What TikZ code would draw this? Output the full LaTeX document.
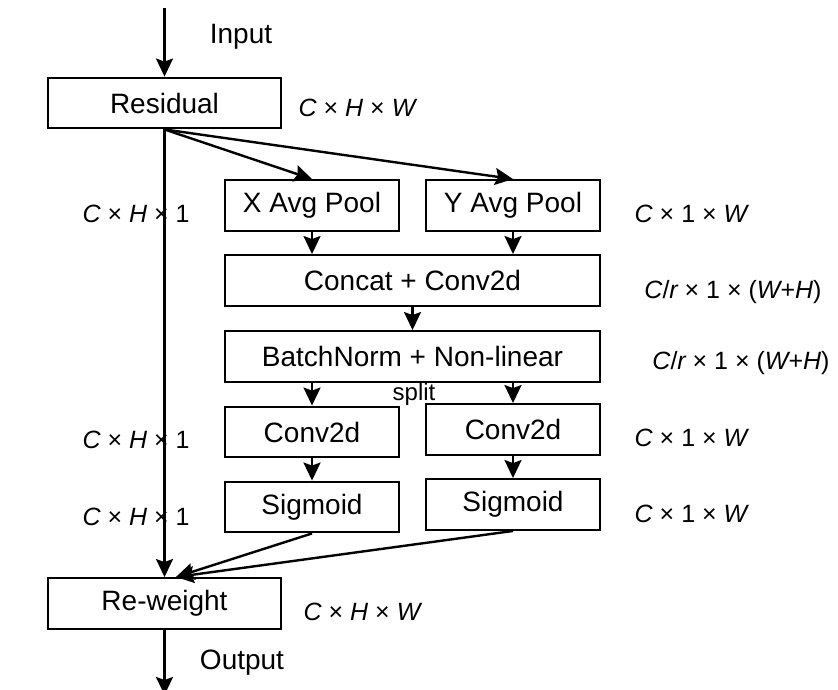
\documentclass[tikz,border=0pt]{standalone}
\usepackage{fontspec}
\setmainfont{Liberation Sans}
\usetikzlibrary{arrows.meta,positioning}
\tikzset{blk/.style={draw,line width=2.4pt,inner sep=0pt,minimum height=50.5pt,font=\fontsize{28}{32}\selectfont},
 wide/.style={blk,minimum width=233pt},mid/.style={blk,minimum width=174pt},long/.style={blk,minimum width=375pt},
 dim/.style={font=\fontsize{25}{29}\selectfont\itshape},
 txt/.style={font=\fontsize{28}{32}\selectfont},
 arr/.style={-{Stealth[length=18pt,width=17pt,inset=3pt]},line width=2.4pt}}

\begin{document}
\begin{tikzpicture}[x=1pt,y=-1pt]
\useasboundingbox (0,0) rectangle (838,689);
\node[wide] (res) at (164.5,103) {Residual};
\node[mid] (xpool) at (312,205.5) {X Avg Pool};
\node[mid] (ypool) at (513,205.5) {Y Avg Pool};
\node[long] (cat) at (412.5,280.5) {Concat + Conv2d};
\node[long] (bn) at (412.5,356.5) {BatchNorm + Non-linear};
\node[mid] (convl) at (312,432) {Conv2d};
\node[mid] (convr) at (513,429.5) {Conv2d};
\node[mid] (sigl) at (312,507) {Sigmoid};
\node[mid] (sigr) at (513,504.5) {Sigmoid};
\node[wide] (rew) at (164.5,603.5) {Re-weight};
\coordinate (in) at (164.5,8);
\coordinate (out) at (164.5,695);
\coordinate (rt) at (176,577);
% text
\node[txt] (intxt) at (241,37) {Input};
\node[txt] (outtxt) at (242,663) {Output};
\node[font=\fontsize{24}{28}\selectfont] (split) at (414,394) {split};
\node[dim] (d1) at (357,108) {C {\upshape×} H {\upshape×} W};
\node[dim] (d2) at (136,214) {C {\upshape×} H {\upshape× 1}};
\node[dim] (d3) at (691,214) {C {\upshape× 1 ×} W};
\node[dim] (d4) at (733,292) {C{\upshape/}r {\upshape× 1 × (}W{\upshape+}H{\upshape)}};
\node[dim] (d5) at (741,363) {C{\upshape/}r {\upshape× 1 × (}W{\upshape+}H{\upshape)}};
\node[dim] (d6) at (136,440) {C {\upshape×} H {\upshape× 1}};
\node[dim] (d7) at (691,438) {C {\upshape× 1 ×} W};
\node[dim] (d8) at (136,517) {C {\upshape×} H {\upshape× 1}};
\node[dim] (d9) at (691,514) {C {\upshape× 1 ×} W};
\node[dim] (d10) at (362,612) {C {\upshape×} H {\upshape×} W};
% arrows
\draw[arr] (in)--(res.north);
\draw[arr] (res.south)--(rew.north);
\draw[arr] (res.south)--(xpool.north);
\draw[arr] (res.south)--(ypool.north);
\draw[arr] (xpool)--(xpool|-cat.north);
\draw[arr] (ypool)--(ypool|-cat.north);
\draw[arr] (cat)--(bn);
\draw[arr] (bn.south-|convl)--(convl);
\draw[arr] (bn.south-|convr)--(convr);
\draw[arr] (convl)--(sigl);
\draw[arr] (convr)--(sigr);
\draw[arr] (sigl.south)--(rt);
\draw[arr] (sigr.south)--(rt);
\draw[arr] (rew)--(out);
\end{tikzpicture}
\end{document}
